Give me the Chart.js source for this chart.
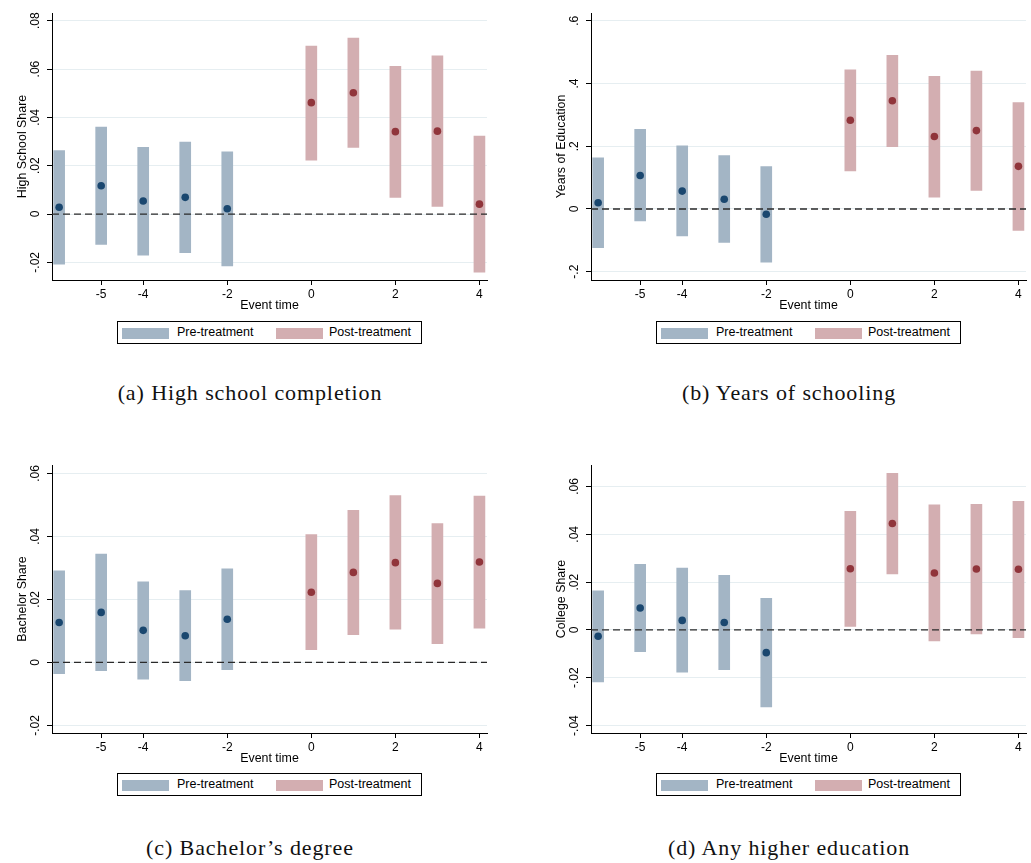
<!DOCTYPE html>
<html>
<head>
<meta charset="utf-8">
<script src="https://cdn.jsdelivr.net/npm/chart.js@4.4.0/dist/chart.umd.min.js"></script>
<style>
body{margin:0;background:#fff;width:1031px;height:863px;position:relative;overflow:hidden;font-family:"Liberation Sans",Arial,sans-serif}
.panel{position:absolute}
.legend{position:absolute;width:303px;height:21px;border:1px solid #000;font-size:12.5px;color:#000;background:#fff}
.sw{position:absolute;top:6px;width:47px;height:11px}
.lt{position:absolute;top:3px;line-height:15px;white-space:nowrap}
.cap{position:absolute;font-family:"Liberation Serif",serif;font-size:22px;line-height:24px;letter-spacing:.9px;transform:translateX(-50%);white-space:nowrap;color:#111}
</style>
</head>
<body>
<div class="panel" style="left:0;top:0;width:500px;height:315px"><canvas id="c-hs"></canvas></div>
<div class="panel" style="left:539px;top:0;width:492px;height:315px"><canvas id="c-yrs"></canvas></div>
<div class="panel" style="left:0;top:450px;width:500px;height:318px"><canvas id="c-ba"></canvas></div>
<div class="panel" style="left:539px;top:450px;width:492px;height:318px"><canvas id="c-col"></canvas></div>

<div class="legend" style="left:117px;top:321px"></div>
<div class="legend" style="left:656px;top:321px"></div>
<div class="legend" style="left:117px;top:773px"></div>
<div class="legend" style="left:656px;top:773px"></div>

<div class="cap" style="left:250px;top:381px">(a) High school completion</div>
<div class="cap" style="left:789px;top:381px">(b) Years of schooling</div>
<div class="cap" style="left:250px;top:836px">(c) Bachelor’s degree</div>
<div class="cap" style="left:789px;top:836px">(d) Any higher education</div>

<script>
// event time
const preTimes=[-6,-5,-4,-3,-2];
const postTimes=[0,1,2,3,4];
const xTicks=[-5,-4,-2,0,2,4];
const seriesNames=['Pre-treatment','Post-treatment'];

// (a) high school share
const hsPre=[0.0028,0.0117,0.0054,0.0069,0.0022];
const hsPreLo=[-0.0207,-0.0126,-0.0170,-0.0160,-0.0215];
const hsPreHi=[0.0263,0.0360,0.0276,0.0298,0.0257];
const hsPost=[0.0461,0.0502,0.0341,0.0343,0.0041];
const hsPostLo=[0.0223,0.0276,0.0069,0.0032,-0.0241];
const hsPostHi=[0.0695,0.0728,0.0611,0.0655,0.0323];
const hsTicks=[-0.02,0,0.02,0.04,0.06,0.08];

// (b) years of education
const yrsPre=[0.020,0.107,0.057,0.031,-0.017];
const yrsPreLo=[-0.123,-0.038,-0.086,-0.107,-0.170];
const yrsPreHi=[0.163,0.254,0.201,0.170,0.135];
const yrsPost=[0.283,0.345,0.231,0.250,0.136];
const yrsPostLo=[0.121,0.199,0.038,0.059,-0.068];
const yrsPostHi=[0.444,0.490,0.423,0.440,0.339];
const yrsTicks=[-0.2,0,0.2,0.4,0.6];

// (c) bachelor share
const baPre=[0.0127,0.0159,0.0102,0.0085,0.0137];
const baPreLo=[-0.0036,-0.0026,-0.0053,-0.0058,-0.0023];
const baPreHi=[0.0291,0.0344,0.0256,0.0228,0.0297];
const baPost=[0.0223,0.0286,0.0317,0.0251,0.0319];
const baPostLo=[0.0041,0.0088,0.0106,0.0060,0.0109];
const baPostHi=[0.0406,0.0483,0.0530,0.0441,0.0528];
const baTicks=[-0.02,0,0.02,0.04,0.06];

// (d) college share
const colPre=[-0.0026,0.0092,0.0040,0.0031,-0.0095];
const colPreLo=[-0.0217,-0.0091,-0.0177,-0.0166,-0.0322];
const colPreHi=[0.0164,0.0275,0.0259,0.0229,0.0132];
const colPost=[0.0256,0.0445,0.0238,0.0255,0.0254];
const colPostLo=[0.0015,0.0234,-0.0046,-0.0017,-0.0032];
const colPostHi=[0.0496,0.0655,0.0523,0.0525,0.0538];
const colTicks=[-0.04,-0.02,0,0.02,0.04,0.06];

const NAVY='#1a476f', NAVY_BAR='#a3b5c5';
const MAROON='#90353b', MAROON_BAR='#d3aeb1';
const FONT='"Liberation Sans", Arial, sans-serif';

function fmt(v){
  if(v===0) return '0';
  return (v<0?'-':'')+String(Math.abs(v)).replace(/^0/,'');
}

const extras={
  id:'extras',
  afterDatasetsDraw(chart){
    const {ctx,chartArea:a,scales:{y}}=chart;
    const y0=y.getPixelForValue(0);
    ctx.save();
    ctx.strokeStyle='#2a2a2a';ctx.lineWidth=1.3;ctx.setLineDash([7,4]);
    ctx.beginPath();ctx.moveTo(a.left,y0);ctx.lineTo(a.right,y0);ctx.stroke();
    ctx.restore();
  },
  afterDraw(chart){
    const {ctx,chartArea:a,scales:{y}}=chart;
    ctx.save();
    ctx.fillStyle='#000';ctx.font='12px '+FONT;
    ctx.textAlign='center';ctx.textBaseline='middle';
    y.ticks.forEach(t=>{
      ctx.save();
      ctx.translate(a.left-16,y.getPixelForValue(t.value));
      ctx.rotate(-Math.PI/2);
      ctx.fillText(fmt(t.value),0,0);
      ctx.restore();
    });
    ctx.restore();
  }
};

function makePanel(id,p){
  const pts=(times,vals)=>times.map((t,i)=>({x:t,y:vals[i]}));
  const rng=(times,lo,hi)=>times.map((t,i)=>({x:t,y:[lo[i],hi[i]]}));
  new Chart(document.getElementById(id),{
    type:'bar',
    data:{datasets:[
      {type:'scatter',data:pts(preTimes,p.pre),backgroundColor:NAVY,borderColor:NAVY,pointRadius:3.8,pointBorderWidth:0,order:0},
      {type:'scatter',data:pts(postTimes,p.post),backgroundColor:MAROON,borderColor:MAROON,pointRadius:3.8,pointBorderWidth:0,order:0},
      {label:seriesNames[0],data:rng(preTimes,p.preLo,p.preHi),backgroundColor:NAVY_BAR,barThickness:11,grouped:false,order:1},
      {label:seriesNames[1],data:rng(postTimes,p.postLo,p.postHi),backgroundColor:MAROON_BAR,barThickness:11,grouped:false,order:1}
    ]},
    options:{
      responsive:true,maintainAspectRatio:false,animation:false,
      layout:{padding:{top:p.padTop,right:p.padRight,left:0,bottom:0}},
      plugins:{legend:{display:false},tooltip:{enabled:false}},
      scales:{
        x:{type:'linear',min:-6.17,max:4.18,offset:false,
          afterBuildTicks:s=>{s.ticks=xTicks.map(v=>({value:v}));},
          afterFit:s=>{s.height=35;},
          ticks:{color:'#000',font:{family:FONT,size:12},padding:2,maxRotation:0,callback:v=>String(v)},
          grid:{drawOnChartArea:false,offset:false,tickLength:5,tickColor:'#000'},
          border:{color:'#000',width:1},
          title:{display:true,text:'Event time',color:'#000',font:{family:FONT,size:12.4},padding:{top:0,bottom:1.8}}
        },
        y:{min:p.yMin,max:p.yMax,
          afterBuildTicks:s=>{s.ticks=p.ticks.map(v=>({value:v}));},
          afterFit:s=>{s.width=52;},
          ticks:{display:false},
          grid:{color:'#e6eef1',lineWidth:1,tickLength:5,tickColor:'#000'},
          border:{color:'#000',width:1},
          title:{display:true,text:p.label,color:'#000',font:{family:FONT,size:12.4},padding:{top:15}}
        }
      }
    },
    plugins:[extras]
  });
}

makePanel('c-hs',{label:'High School Share',yMin:-0.0273,yMax:0.0832,ticks:hsTicks,padTop:13,padRight:13,
  pre:hsPre,preLo:hsPreLo,preHi:hsPreHi,post:hsPost,postLo:hsPostLo,postHi:hsPostHi});
makePanel('c-yrs',{label:'Years of Education',yMin:-0.2265,yMax:0.625,ticks:yrsTicks,padTop:13,padRight:5,
  pre:yrsPre,preLo:yrsPreLo,preHi:yrsPreHi,post:yrsPost,postLo:yrsPostLo,postHi:yrsPostHi});
makePanel('c-ba',{label:'Bachelor Share',yMin:-0.0224,yMax:0.0627,ticks:baTicks,padTop:15,padRight:13,
  pre:baPre,preLo:baPreLo,preHi:baPreHi,post:baPost,postLo:baPostLo,postHi:baPostHi});
makePanel('c-col',{label:'College Share',yMin:-0.0431,yMax:0.069,ticks:colTicks,padTop:15,padRight:5,
  pre:colPre,preLo:colPreLo,preHi:colPreHi,post:colPost,postLo:colPostLo,postHi:colPostHi});

// legends
document.querySelectorAll('.legend').forEach(el=>{
  el.innerHTML=
    `<div class="sw" style="left:4px;background:${NAVY_BAR}"></div>`+
    `<div class="lt" style="left:59px">${seriesNames[0]}</div>`+
    `<div class="sw" style="left:158px;background:${MAROON_BAR}"></div>`+
    `<div class="lt" style="left:211px">${seriesNames[1]}</div>`;
});
</script>
</body>
</html>
